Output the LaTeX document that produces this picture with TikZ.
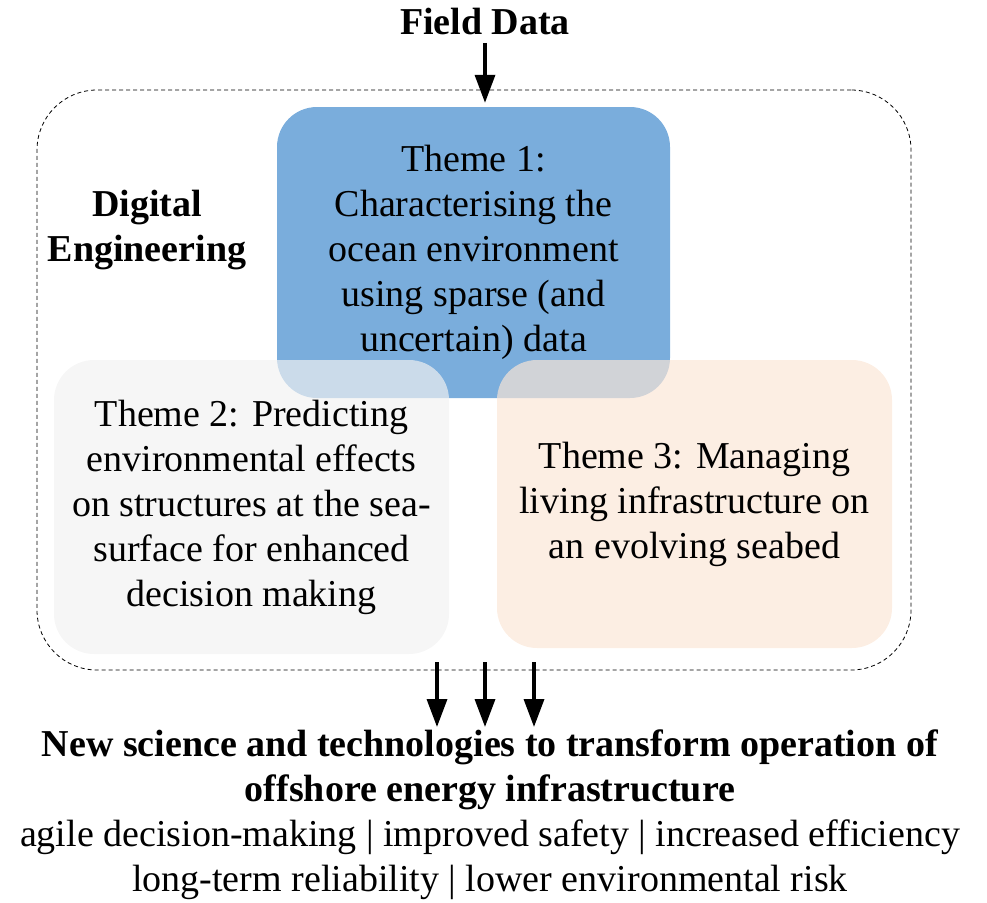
\documentclass[tikz,border=0pt]{standalone}
\usepackage{fontspec}
\setmainfont{Liberation Serif}
\usepackage{xcolor}
\usetikzlibrary{arrows.meta}

\definecolor{themeblue}{RGB}{122,173,220}
\definecolor{themegray}{RGB}{242,242,242}
\definecolor{themepeach}{RGB}{251,230,214}

\tikzset{
  theme/.style={rounded corners=40pt, inner sep=0pt, align=center,
    font=\fontsize{38}{45}\selectfont},
  bigarrow/.style={line width=3.5pt, -{Triangle[length=28pt,width=20pt]}},
  txt/.style={align=center, font=\fontsize{38}{45}\selectfont}
}

\begin{document}
\begin{tikzpicture}[x=1pt, y=-1pt]
      \useasboundingbox (0,0) rectangle (987,902);

      % Digital engineering frame
      \node[draw, dashed, dash pattern=on 4pt off 3pt, line width=0.8pt,
        rounded corners=60pt, minimum width=874pt, minimum height=580pt]
        (frame) at (474,380) {};
      \node[txt, font=\fontsize{38}{45}\selectfont\bfseries] (dig) at (147,230)
        {Digital\\Engineering};

      % Themes
      \node[theme, fill=themeblue, minimum width=393pt, minimum height=291pt]
        (theme1) at (473.5,252.5)
        {Theme 1:\\Characterising the\\ocean environment\\using sparse (and\\uncertain) data};
      \node[theme, fill=themegray, fill opacity=0.68, text opacity=1,
        minimum width=395pt, minimum height=294pt] (theme2) at (251.5,507)
        {Theme 2: Predicting\\environmental effects\\on structures at the sea-\\surface for enhanced\\decision making};
      \node[theme, fill=themepeach, fill opacity=0.68, text opacity=1,
        minimum width=395pt, minimum height=288pt] (theme3) at (694.5,504)
        {Theme 3: Managing\\living infrastructure on\\an evolving seabed};

      % Input
      \node[txt, font=\fontsize{38}{45}\selectfont\bfseries] (field) at (485,22) {Field Data};
      \draw[bigarrow, shorten <=4pt, shorten >=4pt] (field.south) -- (field.south |- theme1.north);

      % Outcomes
      \node[txt] (out) at (490,815)
        {\textbf{New science and technologies to transform operation of}\\
         \textbf{offshore energy infrastructure}\\
         agile decision-making | improved safety | increased efficiency\\
         long-term reliability | lower environmental risk};

      \foreach \x [count=\i] in {437,485,534} {
          \coordinate (a\i) at (\x,662);
          \coordinate (b\i) at (\x,727);
          \draw[bigarrow] (a\i) -- (b\i);
        }
    \end{tikzpicture}
\end{document}
